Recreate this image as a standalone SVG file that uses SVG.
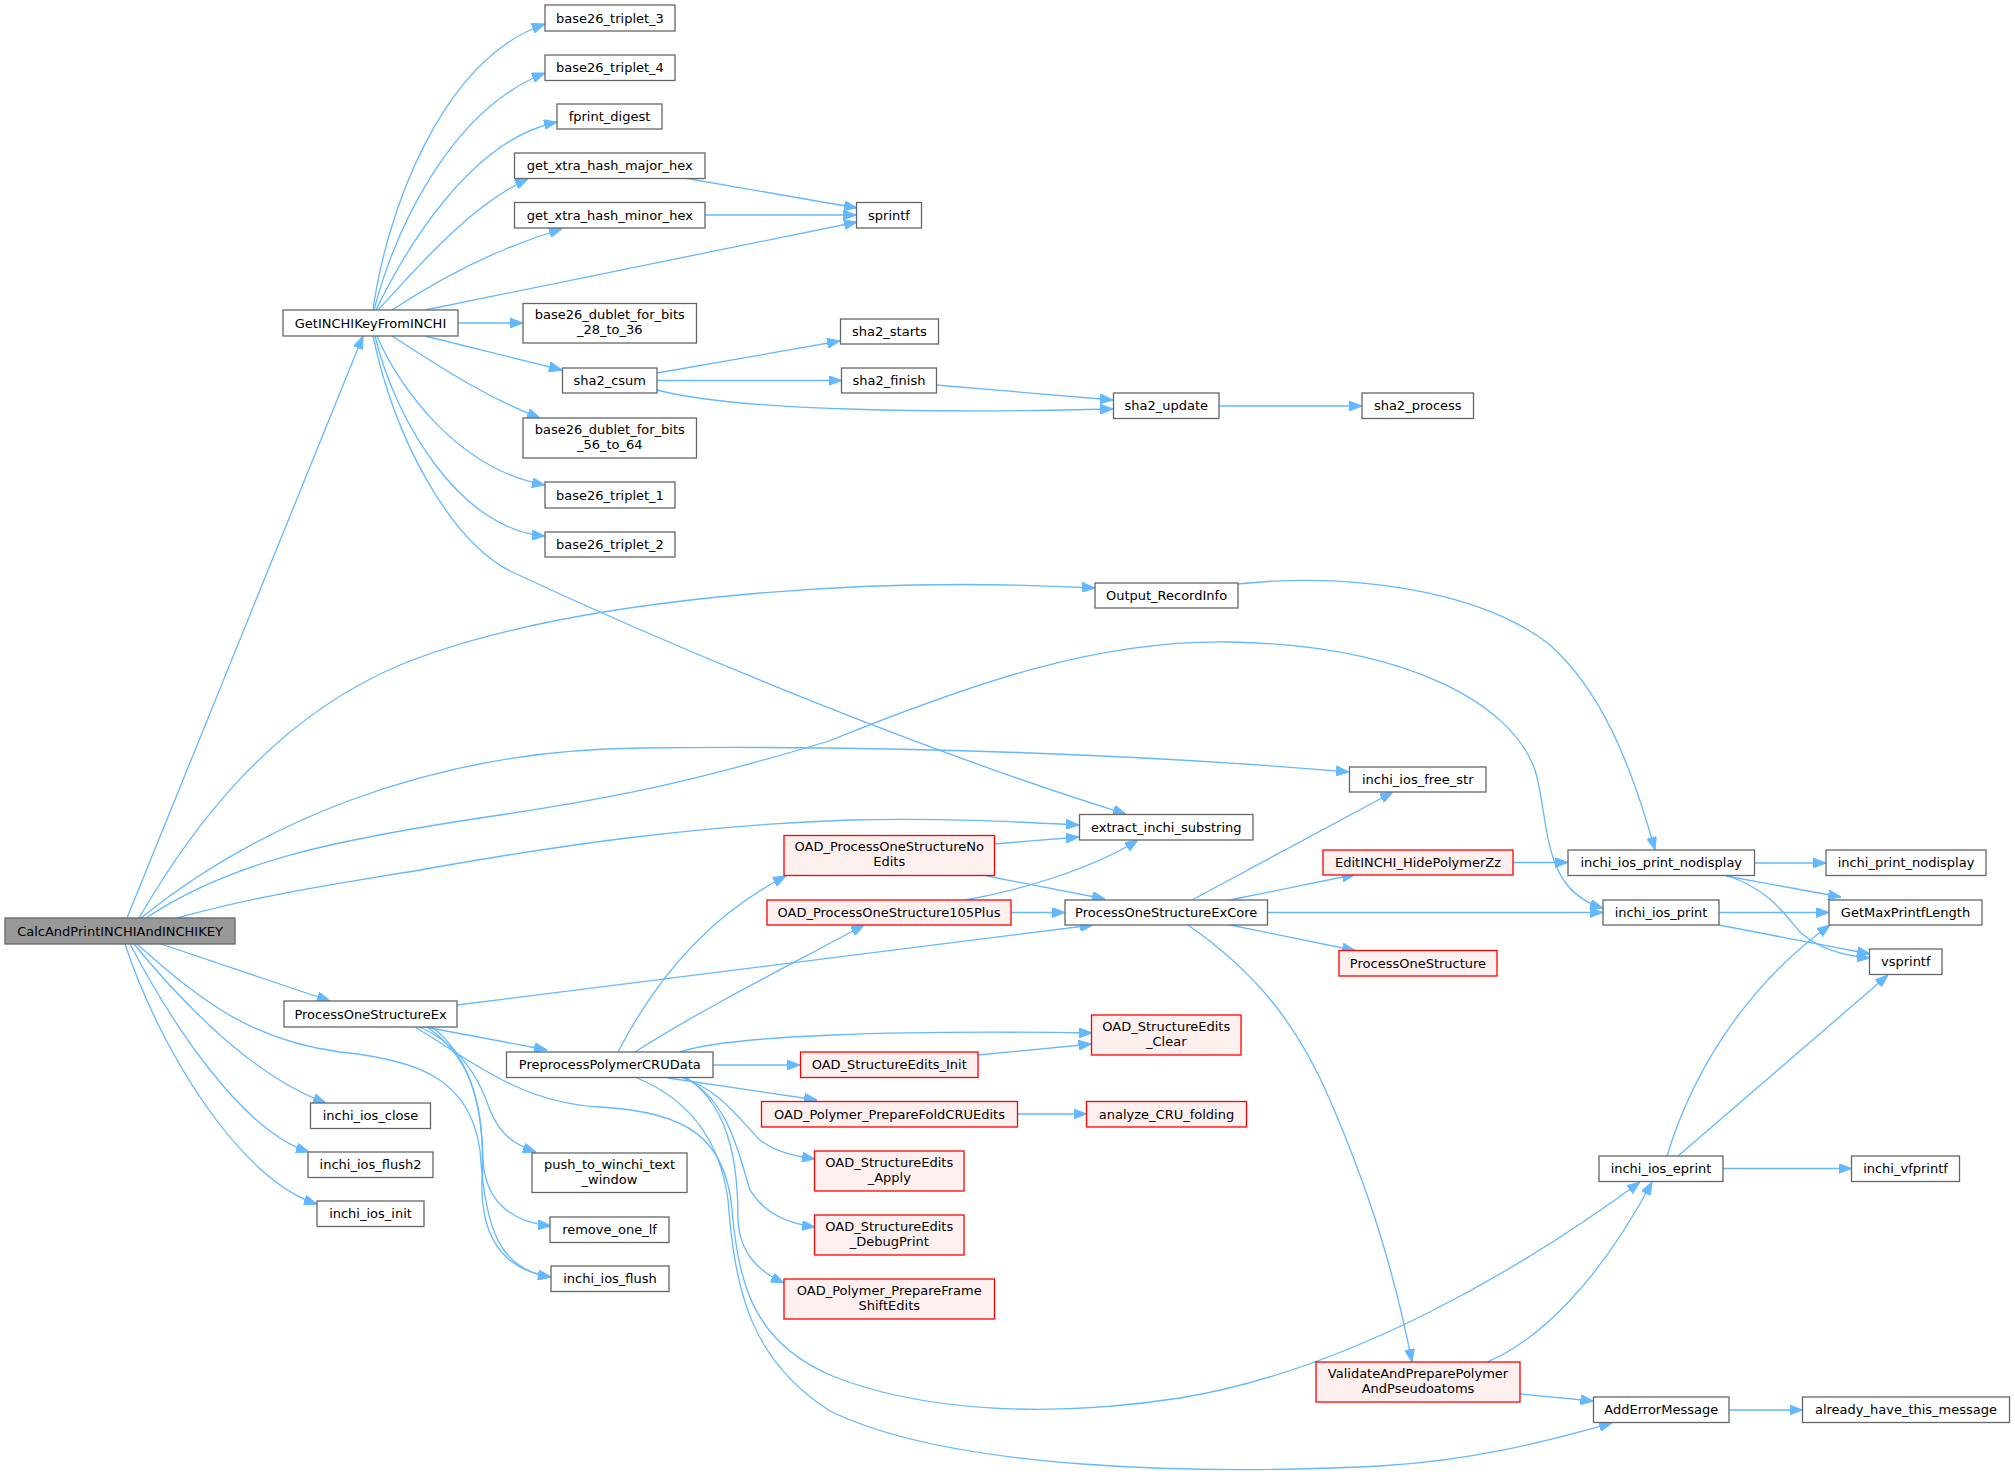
<svg xmlns="http://www.w3.org/2000/svg" width="2015" height="1481" viewBox="0 0 2015 1481">
<style>
.node rect{fill:#ffffff;stroke:#666666;stroke-width:1.3}
.red rect{fill:#fff0f0;stroke:#ff0000}
.root rect{fill:#999999;stroke:#666666}
text{font-family:"DejaVu Sans","Liberation Sans",sans-serif;font-size:13px;text-anchor:middle;fill:#000000}
.edges path{fill:none;stroke:#63b8ff;stroke-width:1.3;marker-end:url(#arr)}
</style>
<defs>
<marker id="arr" markerUnits="userSpaceOnUse" viewBox="0 0 13 10" refX="13" refY="5" markerWidth="13" markerHeight="10" orient="auto">
<path d="M0,0 L13,5 L0,10 z" fill="#63b8ff" stroke="#63b8ff" stroke-width="1"/>
</marker>
</defs>
<rect width="2015" height="1481" fill="#ffffff"/>
<g class="edges">
<path d="M127,918 L363,336"/>
<path d="M139,918 C190,830 270,720 400,665 C560,600 850,575 1095,588"/>
<path d="M141,918 C250,830 420,750 640,748 C900,745 1150,755 1349,772"/>
<path d="M146,918 C230,862 330,840 500,815 C620,797 700,780 829,741 C980,680 1100,640 1230,642 C1400,645 1510,700 1535,770 C1550,820 1540,890 1603,908"/>
<path d="M177,918 C260,895 330,885 420,870 C560,845 700,825 850,820 C950,818 1020,822 1079,825"/>
<path d="M161,944 L330,1001"/>
<path d="M134,944 C180,1000 250,1075 326,1103"/>
<path d="M130,944 C170,1020 240,1130 309,1152"/>
<path d="M125,944 C160,1050 240,1180 317,1204"/>
<path d="M137,944 C200,1000 250,1040 340,1052 C420,1060 470,1080 480,1150 C485,1230 500,1270 551,1277"/>
<path d="M373,310 C386,215 440,60 545,24"/>
<path d="M374,310 C395,230 450,110 545,73"/>
<path d="M376,310 C405,250 470,140 557,122"/>
<path d="M378,310 C415,270 470,205 528,179"/>
<path d="M392,310 C430,285 490,250 562,229"/>
<path d="M425,310 L857,222"/>
<path d="M684,178 L857,208"/>
<path d="M705,215 L856,215"/>
<path d="M458,323 L523,323"/>
<path d="M425,336 L562,370"/>
<path d="M392,336 C430,360 480,395 540,418"/>
<path d="M377,336 C400,390 460,470 545,485"/>
<path d="M375,336 C395,420 460,530 545,536"/>
<path d="M373,336 C395,440 450,540 510,571 C700,660 950,760 1126,814"/>
<path d="M657,373 L840,341"/>
<path d="M657,380.5 L841.5,380.5"/>
<path d="M657,390 C740,412 950,413 1113,409"/>
<path d="M936,385 L1113,400"/>
<path d="M1219,406 L1362,406"/>
<path d="M1238,584 C1350,572 1480,590 1550,645 C1600,690 1630,760 1655,850"/>
<path d="M457,1005 L1093,925"/>
<path d="M425,1027 L547,1050"/>
<path d="M420,1027 C460,1045 480,1080 490,1110 C500,1135 515,1145 536,1152"/>
<path d="M427,1027 C475,1060 482,1110 483,1160 C485,1200 510,1222 551,1226"/>
<path d="M432,1027 C475,1060 485,1120 482,1180 C480,1240 505,1270 551,1277"/>
<path d="M415,1027 C470,1060 520,1103 600,1107 C690,1112 722,1140 731,1200 C738,1280 750,1340 830,1375 C920,1412 1050,1418 1180,1398 C1350,1370 1520,1270 1640,1182"/>
<path d="M618,1052 C650,990 700,920 786,876"/>
<path d="M635,1052 C700,1010 800,960 864,925"/>
<path d="M680,1052 C730,1035 900,1030 1092,1033"/>
<path d="M713,1065 L800,1065"/>
<path d="M668,1078 L817,1100"/>
<path d="M683,1078 C720,1090 740,1120 760,1140 C775,1152 795,1156 815,1159"/>
<path d="M685,1078 C730,1100 740,1160 750,1190 C765,1215 790,1224 815,1227"/>
<path d="M687,1078 C735,1110 738,1180 738,1220 C740,1255 760,1272 784,1283"/>
<path d="M637,1078 C690,1100 720,1140 728,1200 C735,1290 750,1360 830,1411 C950,1470 1200,1475 1380,1466 C1480,1460 1550,1440 1612,1423"/>
<path d="M994,844 L1079,837"/>
<path d="M987,876 L1105,899"/>
<path d="M966,900 C1020,890 1090,870 1138,840"/>
<path d="M1011,912.5 L1065,912.5"/>
<path d="M978,1055 L1091.5,1044"/>
<path d="M1017.5,1114 L1086.5,1114"/>
<path d="M1192,900 L1393,792"/>
<path d="M1230,900 L1355,874.5"/>
<path d="M1267.5,912.5 L1603,912.5"/>
<path d="M1230,925 L1355,950.5"/>
<path d="M1188,925 C1260,975 1300,1030 1330,1100 C1360,1170 1390,1250 1412,1362"/>
<path d="M1513,862.5 L1568,862.5"/>
<path d="M1754.5,863 L1826,863"/>
<path d="M1726,876 L1841,897"/>
<path d="M1728,876 C1770,890 1785,915 1800,932 C1820,950 1845,956 1870,958"/>
<path d="M1719,912.5 L1829,912.5"/>
<path d="M1719,925 L1870,954"/>
<path d="M1667,1156 C1690,1080 1740,990 1830,925"/>
<path d="M1678,1156 L1888,975"/>
<path d="M1723,1168.5 L1851.5,1168.5"/>
<path d="M1487,1362 C1540,1340 1600,1280 1652,1182"/>
<path d="M1520,1394 L1593.5,1401"/>
<path d="M1729,1410 L1802.5,1410"/>
</g>
<g id="n_root" class="node root"><rect x="5" y="918" width="230" height="26"/><text x="120" y="935.5">CalcAndPrintINCHIAndINCHIKEY</text></g>
<g id="n_getkey" class="node"><rect x="283" y="310" width="175" height="26"/><text x="370.5" y="327.5">GetINCHIKeyFromINCHI</text></g>
<g id="n_pose" class="node"><rect x="284" y="1001" width="173" height="26"/><text x="370.5" y="1018.5">ProcessOneStructureEx</text></g>
<g id="n_close" class="node"><rect x="310.5" y="1103" width="120" height="25.5"/><text x="370.5" y="1120.25">inchi_ios_close</text></g>
<g id="n_flush2" class="node"><rect x="308" y="1152" width="125" height="25.5"/><text x="370.5" y="1169.25">inchi_ios_flush2</text></g>
<g id="n_init" class="node"><rect x="317" y="1201" width="107" height="25.5"/><text x="370.5" y="1218.25">inchi_ios_init</text></g>
<g id="n_t3" class="node"><rect x="545" y="5" width="130" height="26"/><text x="610" y="22.5">base26_triplet_3</text></g>
<g id="n_t4" class="node"><rect x="545" y="55" width="130" height="25.5"/><text x="610" y="72.25">base26_triplet_4</text></g>
<g id="n_fprint" class="node"><rect x="557" y="104" width="105" height="25"/><text x="609.5" y="121">fprint_digest</text></g>
<g id="n_major" class="node"><rect x="514.5" y="153" width="190.5" height="25.5"/><text x="609.75" y="170.25">get_xtra_hash_major_hex</text></g>
<g id="n_minor" class="node"><rect x="514.5" y="202.5" width="190.5" height="25.5"/><text x="609.75" y="219.75">get_xtra_hash_minor_hex</text></g>
<g id="n_d28" class="node"><rect x="523" y="303.5" width="173.5" height="39.5"/><text x="609.75" y="319">base26_dublet_for_bits</text><text x="609.75" y="334">_28_to_36</text></g>
<g id="n_csum" class="node"><rect x="562.5" y="368" width="94.5" height="25"/><text x="609.75" y="385">sha2_csum</text></g>
<g id="n_d56" class="node"><rect x="523" y="418" width="173.5" height="40"/><text x="609.75" y="433.5">base26_dublet_for_bits</text><text x="609.75" y="448.5">_56_to_64</text></g>
<g id="n_t1" class="node"><rect x="545" y="482" width="130" height="26"/><text x="610" y="499.5">base26_triplet_1</text></g>
<g id="n_t2" class="node"><rect x="545" y="532" width="130" height="25"/><text x="610" y="549">base26_triplet_2</text></g>
<g id="n_pp" class="node"><rect x="506.5" y="1052" width="206.5" height="25.5"/><text x="609.75" y="1069.25">PreprocessPolymerCRUData</text></g>
<g id="n_push" class="node"><rect x="532" y="1153" width="155" height="39.5"/><text x="609.5" y="1168.5">push_to_winchi_text</text><text x="609.5" y="1183.5">_window</text></g>
<g id="n_rmlf" class="node"><rect x="550" y="1217" width="119" height="25.5"/><text x="609.5" y="1234.25">remove_one_lf</text></g>
<g id="n_flush" class="node"><rect x="551" y="1266" width="118" height="25.5"/><text x="610" y="1283.25">inchi_ios_flush</text></g>
<g id="n_sprintf" class="node"><rect x="856.5" y="202.5" width="65" height="25.5"/><text x="889" y="219.75">sprintf</text></g>
<g id="n_starts" class="node"><rect x="840.5" y="319" width="98" height="25"/><text x="889.5" y="336">sha2_starts</text></g>
<g id="n_finish" class="node"><rect x="841.5" y="368" width="95" height="25"/><text x="889" y="385">sha2_finish</text></g>
<g id="n_noedits" class="node red"><rect x="784" y="835.5" width="210.5" height="40"/><text x="889.25" y="851">OAD_ProcessOneStructureNo</text><text x="889.25" y="866">Edits</text></g>
<g id="n_105" class="node red"><rect x="767" y="900" width="244" height="25"/><text x="889" y="917">OAD_ProcessOneStructure105Plus</text></g>
<g id="n_init2" class="node red"><rect x="800.5" y="1052" width="177.5" height="25.5"/><text x="889.25" y="1069.25">OAD_StructureEdits_Init</text></g>
<g id="n_fold" class="node red"><rect x="761.5" y="1101.5" width="256" height="25.5"/><text x="889.5" y="1118.75">OAD_Polymer_PrepareFoldCRUEdits</text></g>
<g id="n_apply" class="node red"><rect x="814.5" y="1151" width="149.5" height="40"/><text x="889.25" y="1166.5">OAD_StructureEdits</text><text x="889.25" y="1181.5">_Apply</text></g>
<g id="n_debug" class="node red"><rect x="814.5" y="1215" width="149.5" height="40"/><text x="889.25" y="1230.5">OAD_StructureEdits</text><text x="889.25" y="1245.5">_DebugPrint</text></g>
<g id="n_frame" class="node red"><rect x="784" y="1279" width="210.5" height="40"/><text x="889.25" y="1294.5">OAD_Polymer_PrepareFrame</text><text x="889.25" y="1309.5">ShiftEdits</text></g>
<g id="n_update" class="node"><rect x="1113.5" y="393" width="105.5" height="25.5"/><text x="1166.25" y="410.25">sha2_update</text></g>
<g id="n_output" class="node"><rect x="1095" y="583" width="143" height="25"/><text x="1166.5" y="600">Output_RecordInfo</text></g>
<g id="n_extract" class="node"><rect x="1079.5" y="814.5" width="173.5" height="25.5"/><text x="1166.25" y="831.75">extract_inchi_substring</text></g>
<g id="n_excore" class="node"><rect x="1065" y="900" width="202.5" height="25"/><text x="1166.25" y="917">ProcessOneStructureExCore</text></g>
<g id="n_clear" class="node red"><rect x="1091.5" y="1015" width="149.5" height="40"/><text x="1166.25" y="1030.5">OAD_StructureEdits</text><text x="1166.25" y="1045.5">_Clear</text></g>
<g id="n_analyze" class="node red"><rect x="1086.5" y="1101.5" width="160" height="25.5"/><text x="1166.5" y="1118.75">analyze_CRU_folding</text></g>
<g id="n_process" class="node"><rect x="1362" y="393" width="111.5" height="25.5"/><text x="1417.75" y="410.25">sha2_process</text></g>
<g id="n_freestr" class="node"><rect x="1349.5" y="767" width="136.5" height="25"/><text x="1417.75" y="784">inchi_ios_free_str</text></g>
<g id="n_edit" class="node red"><rect x="1323" y="850" width="190" height="25"/><text x="1418" y="867">EditINCHI_HidePolymerZz</text></g>
<g id="n_pos" class="node red"><rect x="1339" y="950.5" width="158" height="25.5"/><text x="1418" y="967.75">ProcessOneStructure</text></g>
<g id="n_validate" class="node red"><rect x="1316" y="1362" width="204" height="40"/><text x="1418" y="1377.5">ValidateAndPreparePolymer</text><text x="1418" y="1392.5">AndPseudoatoms</text></g>
<g id="n_printnd" class="node"><rect x="1568" y="850" width="186.5" height="25.5"/><text x="1661.25" y="867.25">inchi_ios_print_nodisplay</text></g>
<g id="n_print" class="node"><rect x="1603" y="900" width="116" height="25"/><text x="1661" y="917">inchi_ios_print</text></g>
<g id="n_eprint" class="node"><rect x="1599" y="1156" width="124" height="25.5"/><text x="1661" y="1173.25">inchi_ios_eprint</text></g>
<g id="n_adderr" class="node"><rect x="1593.5" y="1397" width="135.5" height="25.5"/><text x="1661.25" y="1414.25">AddErrorMessage</text></g>
<g id="n_pnd" class="node"><rect x="1826" y="850" width="160" height="25.5"/><text x="1906" y="867.25">inchi_print_nodisplay</text></g>
<g id="n_getmax" class="node"><rect x="1829" y="900" width="153" height="25"/><text x="1905.5" y="917">GetMaxPrintfLength</text></g>
<g id="n_vsprintf" class="node"><rect x="1869.5" y="949" width="72.5" height="25.5"/><text x="1905.75" y="966.25">vsprintf</text></g>
<g id="n_vfprintf" class="node"><rect x="1851.5" y="1156" width="108" height="25.5"/><text x="1905.5" y="1173.25">inchi_vfprintf</text></g>
<g id="n_already" class="node"><rect x="1802.5" y="1397" width="207" height="25.5"/><text x="1906" y="1414.25">already_have_this_message</text></g>
</svg>
